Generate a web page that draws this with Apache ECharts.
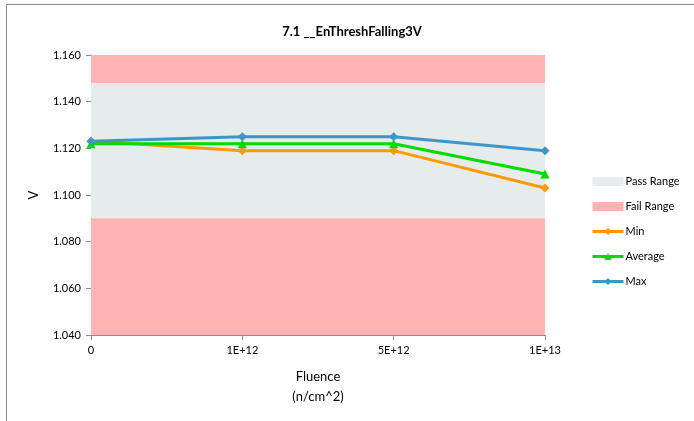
<!DOCTYPE html>
<html>
<head>
<meta charset="utf-8">
<script src="https://cdn.jsdelivr.net/npm/echarts@6/dist/echarts.min.js"></script>
<style>html,body{margin:0;padding:0;background:#fff;}#c{width:694px;height:421px;}</style>
</head>
<body>
<div id="c"></div>
<script>
const categories = ['0', '1E+12', '5E+12', '1E+13'];
const minValues = [1.123, 1.119, 1.119, 1.103];
const avgValues = [1.122, 1.122, 1.122, 1.109];
const maxValues = [1.123, 1.125, 1.125, 1.119];
const passRange = [1.090, 1.148];
const failRanges = [[1.148, 1.160], [1.040, 1.090]];
const yTicks = [1.040, 1.060, 1.080, 1.100, 1.120, 1.140, 1.160];

const FONT = 'Lato, "Open Sans", sans-serif';
const chart = echarts.init(document.getElementById('c'));
chart.setOption({
  animation: false,
  backgroundColor: '#fff',
  title: {
    text: '7.1 __EnThreshFalling3V',
    left: 347, top: 20, textAlign: 'center',
    textStyle: { fontFamily: FONT, fontSize: 13, fontWeight: 'bold', color: '#000' }
  },
  graphic: [
    { type: 'line', shape: { x1: 6, y1: 4.5, x2: 694, y2: 4.5 }, style: { stroke: '#8c8c8c', lineWidth: 1 } },
    { type: 'line', shape: { x1: 6.5, y1: 4, x2: 6.5, y2: 421 }, style: { stroke: '#8c8c8c', lineWidth: 1 } }
  ],
  legend: {
    orient: 'vertical', left: 586, top: 171,
    itemWidth: 31, itemHeight: 9, itemGap: 14,
    textStyle: { fontFamily: FONT, fontSize: 11, color: '#000', padding: [0, 0, 0, -3] },
    data: [
      { name: 'Pass Range', icon: 'rect', itemStyle: { color: '#E6EBEB' } },
      { name: 'Fail Range', icon: 'rect', itemStyle: { color: '#FFB3B3' } },
      { name: 'Min', lineStyle: { width: 3 } },
      { name: 'Average', lineStyle: { width: 3 } },
      { name: 'Max', lineStyle: { width: 3 } }
    ]
  },
  grid: { left: 91, right: 149, top: 55, bottom: 86 },
  xAxis: {
    type: 'category', data: categories, boundaryGap: false,
    name: 'Fluence\n(n/cm^2)', nameLocation: 'middle', nameGap: 32,
    nameTextStyle: { fontFamily: FONT, fontSize: 13, color: '#000', lineHeight: 20 },
    axisLine: { lineStyle: { color: '#8c8c8c' } },
    axisTick: { show: true, length: 5, lineStyle: { color: '#8c8c8c' } },
    axisLabel: { fontFamily: FONT, fontSize: 11, color: '#000', margin: 10 },
    splitLine: { show: false }
  },
  yAxis: {
    type: 'value', min: yTicks[0], max: yTicks[yTicks.length - 1], interval: 0.02,
    name: 'V', nameLocation: 'middle', nameGap: 51, nameRotate: 90,
    nameTextStyle: { fontFamily: FONT, fontSize: 13, color: '#000' },
    axisLine: { show: true, lineStyle: { color: '#8c8c8c' } },
    axisTick: { show: true, length: 5, lineStyle: { color: '#8c8c8c' } },
    axisLabel: { fontFamily: FONT, fontSize: 11, color: '#000', margin: 10, formatter: v => v.toFixed(3) },
    splitLine: { show: false }
  },
  series: [
    {
      name: 'Pass Range', type: 'line', data: [], z: 1,
      itemStyle: { color: '#E6EBEB' },
      markArea: { silent: true, itemStyle: { color: '#E6EBEB' },
        data: [[{ yAxis: passRange[0] }, { yAxis: passRange[1] }]] }
    },
    {
      name: 'Fail Range', type: 'line', data: [], z: 1,
      itemStyle: { color: '#FFB3B3' },
      markArea: { silent: true, itemStyle: { color: '#FFB3B3' },
        data: failRanges.map(r => [{ yAxis: r[0] }, { yAxis: r[1] }]) }
    },
    {
      name: 'Min', type: 'line', data: minValues, z: 3,
      symbol: 'diamond', symbolSize: 9,
      lineStyle: { width: 3, color: '#FF9A00' }, itemStyle: { color: '#FF9A00' }
    },
    {
      name: 'Average', type: 'line', data: avgValues, z: 4,
      symbol: 'triangle', symbolSize: 9,
      lineStyle: { width: 3, color: '#00DC00' }, itemStyle: { color: '#00DC00' }
    },
    {
      name: 'Max', type: 'line', data: maxValues, z: 5,
      symbol: 'diamond', symbolSize: 9,
      lineStyle: { width: 3, color: '#3C96C8' }, itemStyle: { color: '#3C96C8' }
    }
  ]
});
</script>
</body>
</html>
